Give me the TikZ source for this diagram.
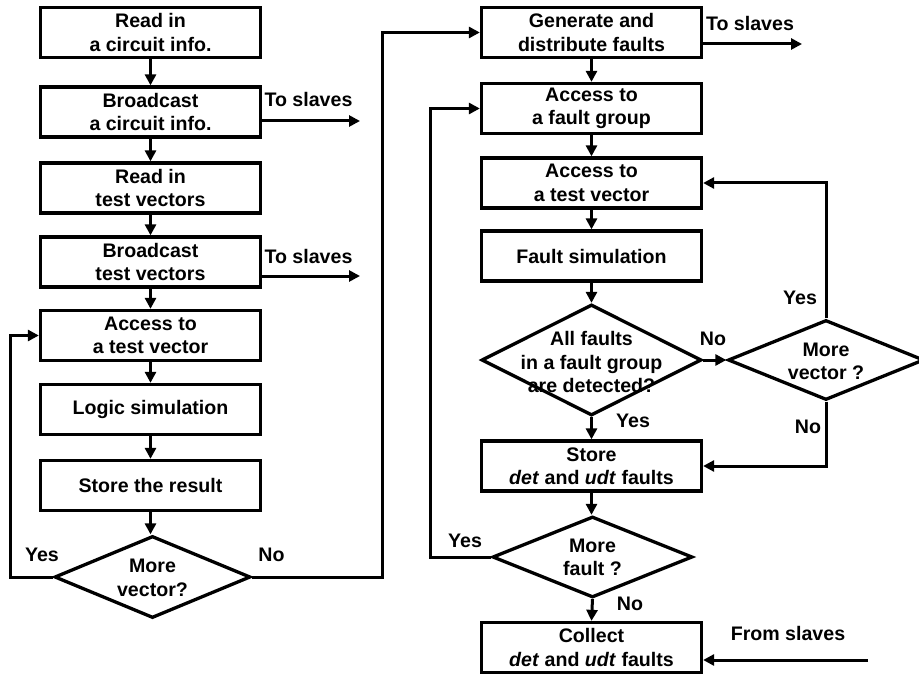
\documentclass[tikz,border=0pt]{standalone}
\usepackage{fontspec}
\setmainfont{Liberation Sans}
\usetikzlibrary{shapes.geometric,arrows.meta}
\begin{document}
\begin{tikzpicture}[x=1pt,y=-1pt,
  font=\fontsize{19.6}{23.3}\selectfont\bfseries,
  proc/.style={draw, line width=3.3pt, minimum width=220pt, minimum height=50pt,
               inner sep=0pt, align=center},
  dec/.style={draw, diamond, line width=3.3pt, inner sep=0pt},
  flow/.style={line width=3pt, -{Triangle[length=11pt,width=11pt]}},
  lbl/.style={inner sep=0pt, align=center}]
\useasboundingbox (0,0) rectangle (919,674);

% ---- master: circuit and test vector preparation ----
\node[proc] (L1) at (150.5,32.5) {Read in\\a circuit info.};
\node[proc] (L2) at (150.5,112)  {Broadcast\\a circuit info.};
\node[proc] (L3) at (150.5,188)  {Read in\\test vectors};
\node[proc] (L4) at (150.5,262)  {Broadcast\\test vectors};
\node[proc] (L5) at (150.5,335.5) {Access to\\a test vector};
\node[proc] (L6) at (150.5,409.5) {Logic simulation};
\node[proc] (L7) at (150.5,485.5) {Store the result};
\node[dec, minimum width=196pt, minimum height=82pt] (D1) at (152.5,577) {};
\node[lbl] (D1t) at (152.5,578) {More\\vector?};

% ---- master: fault simulation loop ----
\node[proc] (R1) at (591.5,32.5) {Generate and\\distribute faults};
\node[proc] (R2) at (591.5,108.5) {Access to\\a fault group};
\node[proc] (R3) at (591.5,183)  {Access to\\a test vector};
\node[proc] (R4) at (591.5,256)  {Fault simulation};
\node[dec, minimum width=220pt, minimum height=111pt] (D2) at (591.5,360) {};
\node[lbl] (D2t) at (591.5,362) {All faults\\in a fault group\\are detected?};
\node[dec, minimum width=196pt, minimum height=80pt] (D3) at (826,360) {};
\node[lbl] (D3t) at (826,361.5) {More\\vector ?};
\node[proc] (R5) at (591.5,466) {Store\\\textit{det} and \textit{udt} faults};
\node[dec, minimum width=200pt, minimum height=81pt] (D4) at (592.5,557) {};
\node[lbl] (D4t) at (592.5,557.5) {More\\fault ?};
\node[proc] (R6) at (591.5,647.5) {Collect\\\textit{det} and \textit{udt} faults};

% free ends of the slave links
\coordinate (S1) at (360,121);
\coordinate (S2) at (360,276);
\coordinate (S3) at (802,44);
\coordinate (S4) at (868,660);

% ---- main flow ----
\draw[flow] (L1) -- (L2);
\draw[flow] (L2) -- (L3);
\draw[flow] (L3) -- (L4);
\draw[flow] (L4) -- (L5);
\draw[flow] (L5) -- (L6);
\draw[flow] (L6) -- (L7);
\draw[flow] (L7.south) -- (L7.south |- D1.north);
\draw[flow] (L2.east |- S1) -- (S1);
\draw[flow] (L4.east |- S2) -- (S2);
\draw[flow] (D1.west) -- ++(-42,0) |- (L5.west);
\draw[flow] (D1.east) -- ++(130,0) |- (R1.west);

\draw[flow] (R1) -- (R2);
\draw[flow] (R2) -- (R3);
\draw[flow] (R3) -- (R4);
\draw[flow] (R4.south) -- (R4.south |- D2.north);
\draw[flow] (R1.east |- S3) -- (S3);
\draw[flow] (D2.east) -- (D3.west);
\draw[flow] (D3.north) |- (R3.east);
\draw[flow] (D3.south) |- (R5.east);
\draw[flow] (D2.south) -- (R5.north);
\draw[flow] (R5.south) -- (R5.south |- D4.north);
\draw[flow] (D4.west) -- ++(-60,0) |- (R2.west);
\draw[flow] (D4.south) -- (R6.north);
\draw[flow] (S4) -- (R6.east |- S4);

% ---- branch and link labels ----
\node[lbl] (tA) at (308.5,99) {To slaves};
\node[lbl] (tB) at (308.5,256) {To slaves};
\node[lbl] (tC) at (750,23) {To slaves};
\node[lbl] (tD) at (788,633) {From slaves};
\node[lbl] (y1) at (42,555) {Yes};
\node[lbl] (n1) at (271.5,555) {No};
\node[lbl] (n2) at (713,339) {No};
\node[lbl] (y2) at (800,298) {Yes};
\node[lbl] (n3) at (808,427) {No};
\node[lbl] (y3) at (633,421) {Yes};
\node[lbl] (y4) at (465,541) {Yes};
\node[lbl] (n4) at (630,604) {No};
\end{tikzpicture}
\end{document}
